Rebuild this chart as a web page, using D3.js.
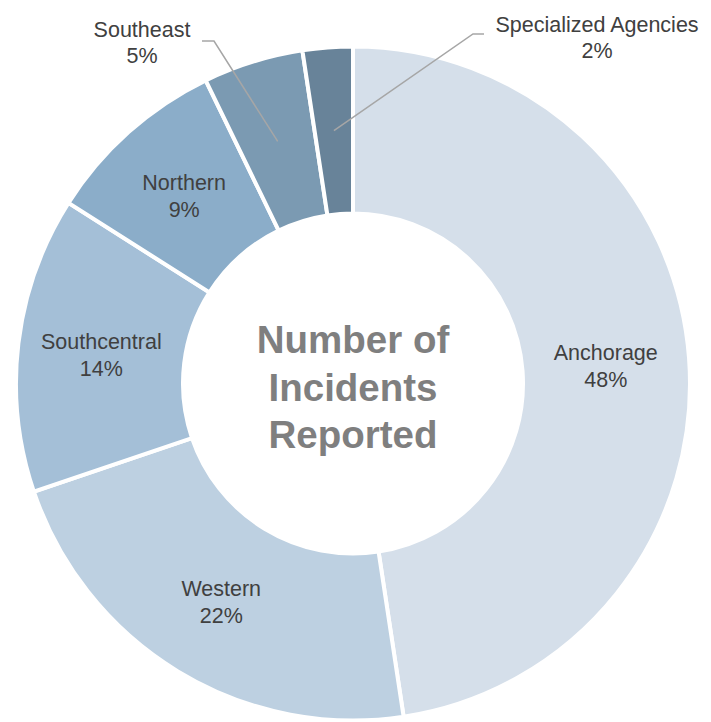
<!DOCTYPE html>
<html>
<head>
<meta charset="utf-8">
<script src="https://cdn.jsdelivr.net/npm/d3@7/dist/d3.min.js"></script>
<style>
  html, body { margin: 0; padding: 0; background: #ffffff; }
  svg { display: block; }
</style>
</head>
<body>
<svg id="chart" width="711" height="722"></svg>
<script>
const regions = ["Anchorage", "Western", "Southcentral", "Northern", "Southeast", "Specialized Agencies"];
const shares = [47.6, 22.2, 14.2, 8.8, 4.8, 2.4];
const pctLabels = ["48%", "22%", "14%", "9%", "5%", "2%"];
const colors = ["#d5dfea", "#bdd0e1", "#a4bfd7", "#8badc9", "#7b9ab2", "#688399"];
const centerTitle = ["Number of", "Incidents", "Reported"];

const svg = d3.select("#chart");
const cx = 353, cy = 383.5, outerR = 337, innerR = 170;
const g = svg.append("g").attr("transform", `translate(${cx},${cy})`);

const data = regions.map((r, i) => ({ name: r, value: shares[i], pct: pctLabels[i], color: colors[i] }));
const pie = d3.pie().value(d => d.value).sort(null);
const arcs = pie(data);
const arc = d3.arc().innerRadius(innerR).outerRadius(outerR);
const labelArc = d3.arc().innerRadius(innerR).outerRadius(outerR);

const labelFont = "'Liberation Sans', Arial, sans-serif";
const labelSize = 21.5;

g.selectAll("path.slice").data(arcs).join("path")
  .attr("class", "slice")
  .attr("d", arc)
  .attr("fill", d => d.data.color)
  .attr("stroke", "#ffffff")
  .attr("stroke-width", 4)
  .attr("stroke-linejoin", "miter");

// Inside labels for larger slices
const insideNames = ["Anchorage", "Western", "Southcentral", "Northern"];
const inside = arcs.filter(a => insideNames.includes(a.data.name));
const lbl = g.selectAll("text.lbl").data(inside).join("text")
  .attr("class", "lbl")
  .attr("text-anchor", "middle")
  .attr("font-family", labelFont)
  .attr("font-size", labelSize)
  .attr("fill", "#404040")
  .attr("transform", d => { const c = labelArc.centroid(d); return `translate(${c[0]},${c[1]})`; });
lbl.append("tspan").attr("x", 0).attr("y", -4.5).text(d => d.data.name);
lbl.append("tspan").attr("x", 0).attr("y", 22.5).text(d => d.data.pct);

// Outside labels with leader lines
const outsideSpec = {
  "Southeast": { label: [-211, -346.5], elbow: [-139, -342.5], start: [-151, -342.5] },
  "Specialized Agencies": { label: [244, -351.5], elbow: [120, -349.5], start: [131, -349.5] }
};
arcs.filter(a => outsideSpec[a.data.name]).forEach(a => {
  const s = outsideSpec[a.data.name];
  const c = labelArc.centroid(a);
  g.append("polyline")
    .attr("points", [s.start, s.elbow, c].map(p => p.join(",")).join(" "))
    .attr("fill", "none")
    .attr("stroke", "#a6a6a6")
    .attr("stroke-width", 1.5);
  const t = g.append("text")
    .attr("text-anchor", "middle")
    .attr("font-family", labelFont)
    .attr("font-size", labelSize)
    .attr("fill", "#404040")
    .attr("transform", `translate(${s.label[0]},${s.label[1]})`);
  t.append("tspan").attr("x", 0).attr("y", 0).text(a.data.name);
  t.append("tspan").attr("x", 0).attr("y", 25.5).text(a.data.pct);
});

// Center title
const ct = g.append("text")
  .attr("text-anchor", "middle")
  .attr("font-family", labelFont)
  .attr("font-weight", "bold")
  .attr("font-size", 38.5)
  .attr("fill", "#7f7f7f");
centerTitle.forEach((line, i) => {
  ct.append("tspan").attr("x", 0).attr("y", -30.5 + i * 47.5).text(line);
});
</script>
</body>
</html>
